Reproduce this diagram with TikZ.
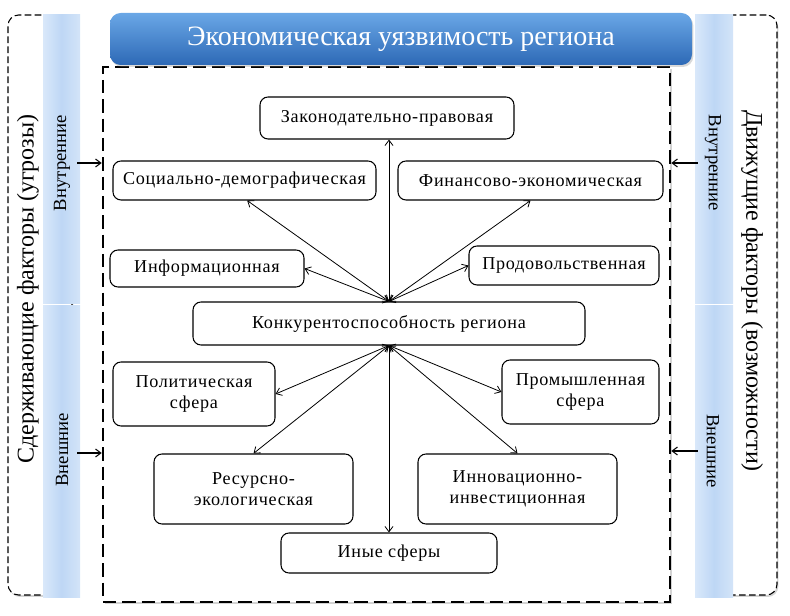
\documentclass[tikz,border=0pt]{standalone}
\usepackage{fontspec}
\setmainfont{Liberation Serif}
\newfontfamily\nodefont[LetterSpace=4]{Liberation Serif}
\usetikzlibrary{arrows.meta,shadows,fit,calc}
\definecolor{titletop}{HTML}{6AA7E6}
\definecolor{titlebot}{HTML}{2D69B6}
\definecolor{barL}{HTML}{D9E8FA}
\definecolor{barM}{HTML}{BED7F5}
\definecolor{barR}{HTML}{D3E4F8}
\begin{document}
\begin{tikzpicture}[x=0.75pt,y=-0.75pt,
  box/.style={draw, rounded corners=6pt, fill=white, line width=0.8pt, inner sep=0pt, align=center,
    font=\nodefont\fontsize{13.6}{15.5}\selectfont},
  wh/.style 2 args={minimum width=#1*0.75pt, minimum height=#2*0.75pt},
  mainbox/.style={draw, line width=1.9pt, dash pattern=on 10pt off 4.5pt, fill=white, inner sep=0pt,
    drop shadow={shadow xshift=1.5pt, shadow yshift=-1.5pt, opacity=0.35}},
  sidebox/.style={draw, fill=white, line width=0.8pt, dash pattern=on 5pt off 2.5pt, rounded corners=8pt, inner sep=0pt,
    drop shadow={shadow xshift=1pt, shadow yshift=-1.5pt, opacity=0.35}},
  bar/.style={inner sep=0pt, left color=barL, right color=barR, middle color=barM},
  barlabel/.style={font=\fontsize{14}{16}\selectfont},
  sidelabel/.style={font=\fontsize{18}{21}\selectfont},
  arr/.style={{Straight Barb[length=4pt,width=6pt]}-{Straight Barb[length=4pt,width=6pt]}, line width=0.6pt},
  sarr/.style={-{Straight Barb[length=4pt,width=6pt]}, line width=0.8pt}
]
\useasboundingbox (0,0) rectangle (790,616);

% side frames
\node[sidebox, fit={(8,15) (72,595)}] (lframe) {};
\node[sidebox, fit={(703,15) (777,595)}] (rframe) {};

% blue bars
\node[bar, fit={(43,15) (80,304)}] (lbartop) {};
\node[bar, fit={(43,306) (80,598)}] (lbarbot) {};
\node[bar, fit={(695,15) (733,304)}] (rbartop) {};
\node[bar, fit={(695,306) (733,598)}] (rbarbot) {};

\node[barlabel, rotate=90] (lin) at (62,163) {Внутренние};
\node[barlabel, rotate=90] (lout) at (62,450) {Внешние};
\node[barlabel, rotate=-90] (rin) at (713,163) {Внутренние};
\node[barlabel, rotate=-90] (rout) at (713,451) {Внешние};

\node[sidelabel, rotate=90] (lside) at (28,289) {Сдерживающие факторы (угрозы)};
\node[sidelabel, rotate=-90] (rside) at (752,291) {Движущие факторы (возможности)};

% main dashed box
\node[mainbox, fit={(103,67) (670,602)}] (main) {};

% title
\node[fit={(110,13) (692,65)}, inner sep=0pt, rounded corners=8pt, top color=titletop, bottom color=titlebot,
  drop shadow={shadow xshift=1pt, shadow yshift=-1.5pt, opacity=0.3}] (titlebar) {};
\node[text=white, font=\fontsize{21}{24}\selectfont] (title) at (titlebar.center) {Экономическая уязвимость региона};

% side arrows
\draw[sarr] (lbartop.east |- lin) ++(-3,0) coordinate (la1) -- (main.west |- lin);
\draw[sarr] (lbarbot.east |- 0,453) ++(-3,0) coordinate (la2) -- (main.west |- la2);
\draw[sarr] (rbartop.west |- rin) ++(3,0) coordinate (ra1) -- (main.east |- rin);
\draw[sarr] (rbarbot.west |- rout) ++(3,0) coordinate (ra2) -- (main.east |- rout);

% inner nodes
\node[box, wh={254}{42}] (zak) at (387,118) {Законодательно-правовая};
\node[box, wh={263}{39}] (soc) at (244.5,180.5) {Социально-демографическая};
\node[box, wh={265}{39}] (fin) at (530.5,180.5) {Финансово-экономическая};
\node[box, wh={194}{37}] (inf) at (207,268.5) {Информационная};
\node[box, wh={190}{39}] (prod) at (564,265.5) {Продовольственная};
\node[box, wh={392}{43}] (hub) at (389,323.5) {Конкурентоспособность региона};
\node[box, wh={162}{64}] (pol) at (194,394) {Политическая\\сфера};
\node[box, wh={157}{64}] (prom) at (580.5,392) {Промышленная\\сфера};
\node[box, wh={199}{70}] (res) at (253.5,489) {Ресурсно-\\экологическая};
\node[box, wh={199}{70}] (inn) at (517.5,489) {Инновационно-\\инвестиционная};
\node[box, wh={216}{40}] (ine) at (389,553) {Иные сферы};

% connectors
\draw[arr] (hub.north) -- (hub.north |- zak.south);
\draw[arr] (hub.north) -- ([xshift=2]soc.south);
\draw[arr] (hub.north) -- (inf.east);
\draw[arr] (hub.north) -- (fin.south);
\draw[arr] (hub.north) -- (prod.west);
\draw[arr] (hub.south) -- (pol.east);
\draw[arr] (hub.south) -- (res.north);
\draw[arr] (hub.south) -- (hub.south |- ine.north);
\draw[arr] (hub.south) -- (prom.west);
\draw[arr] (hub.south) -- (inn.north);
\end{tikzpicture}
\end{document}
